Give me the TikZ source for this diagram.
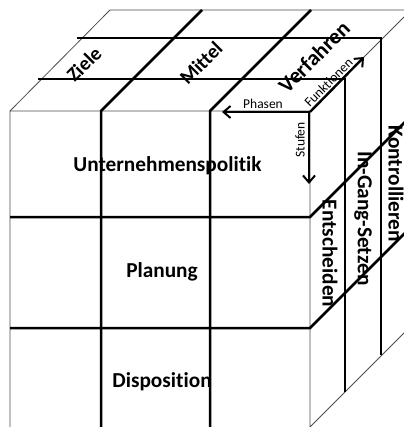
\documentclass[tikz,border=0pt]{standalone}
\usepackage{fontspec}
\setmainfont{Carlito}[Ligatures=NoCommon]
\usetikzlibrary{arrows.meta}
\begin{document}
\begin{tikzpicture}[x=1pt,y=-1pt,
  edge/.style={line width=0.8pt, draw=black!70},
  grid/.style={line width=2.5pt, draw=black},
  dir/.style={line width=2.4pt, draw=black, -{Straight Barb[length=7pt,width=12pt,line width=2pt]}},
  big/.style={font=\bfseries\fontsize{21.3}{25}\selectfont, inner sep=0pt},
  top/.style={font=\bfseries\fontsize{20}{24}\selectfont, inner sep=0pt},
  huge/.style={font=\bfseries\fontsize{22}{26}\selectfont, inner sep=0pt},
  small/.style={font=\fontsize{13.5}{16}\selectfont, inner sep=0pt}]
\useasboundingbox (0,0) rectangle (403,427);
% corners of the cube
\coordinate (FTL) at (10,111);
\coordinate (FTR) at (310,111);
\coordinate (BTL) at (110,10);
\coordinate (BTR) at (411,10);
\coordinate (FBL) at (10,427);
\coordinate (FBR) at (310,427);
\coordinate (BBR) at (411,326);
% outer edges
\draw[edge] (FBL) -- (FTL) -- (FTR) -- (FBR) -- (BBR);
\draw[edge] (FTL) -- (BTL) -- (BTR) -- (FTR);
% grid lines: columns (front and top)
\draw[grid] (101,427) -- (101,111) -- (202,10);
\draw[grid] (210,427) -- (210,111) -- (311,10);
% grid lines: rows (front and right)
\draw[grid] (10,217) -- (310,217) -- (411,116);
\draw[grid] (10,328) -- (310,328) -- (411,227);
% grid lines: layers (top and right)
\draw[grid] (38,79) -- (345,79) -- (345,392);
\draw[grid] (77,38) -- (381,38) -- (381,355);
% direction arrows at the front top corner
\coordinate (O) at (310,112);
\coordinate (Os) at (309,112);
\coordinate (Ph) at (222,112);
\coordinate (St) at (309,184);
\coordinate (Fu) at (364,57);
\draw[dir] (O) -- (Ph);
\draw[dir] (Os) -- (St);
\draw[dir] (O) -- (Fu);
% front face labels
\node[big, anchor=base] (up) at (167.5,172) {Unternehmenspolitik};
\node[big, anchor=base] (pl) at (162,277) {Planung};
\node[big, anchor=base] (di) at (162,387) {Disposition};
% top face labels
\node[top, rotate=45] (zi) at (84,64) {Ziele};
\node[top, rotate=45] (mi) at (201,63) {Mittel};
\node[huge, rotate=45] (ve) at (314,57) {Verfahren};
% right face labels
\node[big, rotate=-90] (en) at (330,253.5) {Entscheiden};
\node[big, rotate=-90] (ig) at (363,218.5) {In-Gang-Setzen};
\node[big, rotate=-90] (ko) at (396,184) {Kontrollieren};
% arrow labels
\node[small, anchor=base] (ph) at (263,109) {Phasen};
\node[small, rotate=90] (stl) at (300,140) {Stufen};
\node[small, rotate=45, anchor=south] (ful) at (332,86) {Funktionen};
\end{tikzpicture}
\end{document}
